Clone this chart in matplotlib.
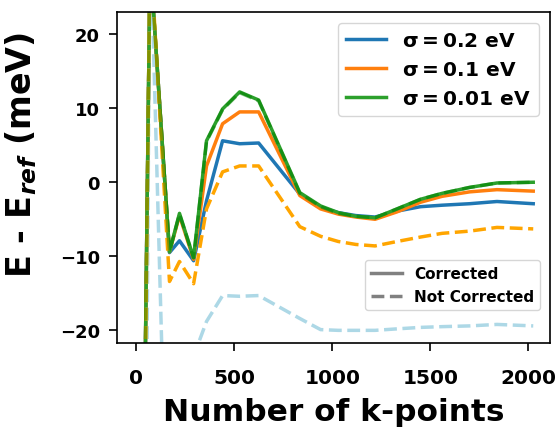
import matplotlib.pyplot as plt
from matplotlib.lines import Line2D

plt.rcParams.update({
    "font.family": "DejaVu Sans",
    "font.weight": "bold",
    "mathtext.default": "bf",
})

# k-point counts
kpts = [20, 70, 169, 220, 292, 358, 440, 527, 624, 834, 940, 1030, 1120,
        1218, 1330, 1450, 1560, 1700, 1840, 2025]

# corrected energies (meV)
corr_02 = [-80, 30, -9.5, -7.9, -10.6, -2.5, 5.6, 5.2, 5.3, -1.6, -3.4, -4.1,
           -4.5, -4.7, -3.9, -3.3, -3.1, -2.9, -2.6, -2.9]
corr_01 = [-80, 30, -9.4, -4.5, -10.4, 2.2, 7.9, 9.5, 9.5, -1.8, -3.6, -4.3,
           -4.7, -5.0, -4.0, -2.7, -1.9, -1.3, -1.0, -1.2]
corr_001 = [-80, 30, -9.4, -4.2, -10.2, 5.6, 9.9, 12.2, 11.1, -1.4, -3.2, -4.1,
            -4.6, -4.8, -3.6, -2.3, -1.5, -0.7, -0.1, 0.0]

# not corrected energies (meV)
raw_02 = [-150, 35, -60, -50, -23.5, -18.8, -15.3, -15.4, -15.3, -18.4, -19.9,
          -20.0, -20.0, -20.0, -19.8, -19.6, -19.5, -19.4, -19.2, -19.4]
raw_01 = [-90, 32, -13.4, -10.7, -13.7, -3.6, 1.4, 2.2, 2.2, -6.0, -7.3, -8.0,
          -8.4, -8.6, -8.0, -7.4, -6.9, -6.6, -6.1, -6.3]
raw_001 = [-80, 30, -9.4, -4.3, -10.2, 5.5, 9.8, 12.1, 11.0, -1.5, -3.3, -4.2,
           -4.6, -4.8, -3.6, -2.3, -1.5, -0.7, -0.1, 0.0]

labels = [r"$\sigma = 0.2$ eV", r"$\sigma = 0.1$ eV", r"$\sigma = 0.01$ eV"]

fig = plt.figure(figsize=(5.56, 4.31), dpi=100)
ax = fig.add_axes([0.21, 0.202, 0.779, 0.768])

# corrected (solid)
h1, = ax.plot(kpts, corr_02, color="C0", lw=2.5, label=labels[0])
h2, = ax.plot(kpts, corr_01, color="C1", lw=2.5, label=labels[1])
h3, = ax.plot(kpts, corr_001, color="C2", lw=2.5, label=labels[2])

# not corrected (dashed)
ax.plot(kpts, raw_02, color="lightblue", lw=2.5, ls="--")
ax.plot(kpts, raw_01, color="orange", lw=2.5, ls="--")
ax.plot(kpts, raw_001, color="green", lw=2.5, ls="--", alpha=0.5)

ax.set_xlim(-100, 2110)
ax.set_ylim(-21.7, 23)
ax.set_xticks([0, 500, 1000, 1500, 2000])
ax.set_yticks([-20, -10, 0, 10, 20])
ax.tick_params(axis="x", labelsize=14.5, width=1.2, length=6, pad=12)
ax.tick_params(axis="y", labelsize=13, width=1.2, length=6, pad=6)
for s in ax.spines.values():
    s.set_linewidth(1.2)

ax.set_xlabel("Number of k-points", fontsize=22.5, fontweight="bold", labelpad=7)
ax.set_ylabel(r"E - E$_{\mathit{ref}}$ (meV)", fontsize=24, fontweight="bold")
ax.yaxis.set_label_coords(-0.18, 0.57)

leg1 = ax.legend(handles=[h1, h2, h3], loc="upper right", fontsize=14.5,
                 handlelength=2.0, borderaxespad=0.55)
ax.add_artist(leg1)

styles = [Line2D([], [], color="gray", lw=2.5, ls="-"),
          Line2D([], [], color="gray", lw=2.5, ls="--")]
ax.legend(styles, ["Corrected", "Not Corrected"], loc="lower right",
          bbox_to_anchor=(0.995, 0.076), fontsize=11, handlelength=2.0)

plt.savefig("out.png", dpi=100)
